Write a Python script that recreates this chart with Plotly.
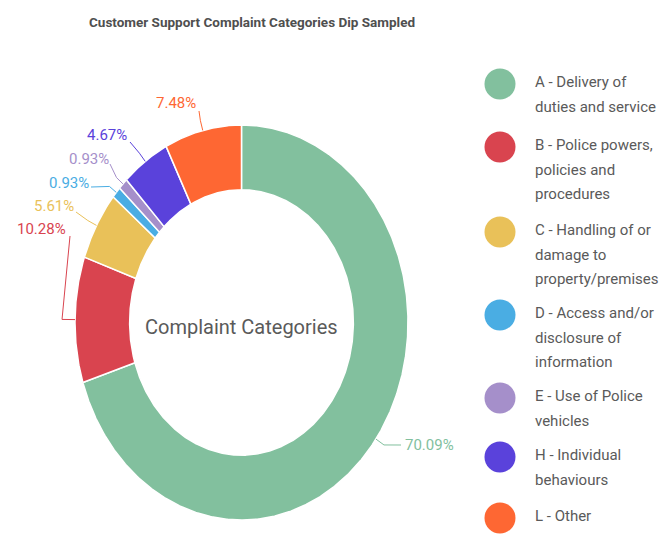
import numpy as np
import plotly.graph_objects as go

# ---- data -------------------------------------------------------------
categories = [
    "A - Delivery of duties and service",
    "B - Police powers, policies and procedures",
    "C - Handling of or damage to property/premises",
    "D - Access and/or disclosure of information",
    "E - Use of Police vehicles",
    "H - Individual behaviours",
    "L - Other",
]
legend_lines = [
    ["A - Delivery of", "duties and service"],
    ["B - Police powers,", "policies and", "procedures"],
    ["C - Handling of or", "damage to", "property/premises"],
    ["D - Access and/or", "disclosure of", "information"],
    ["E - Use of Police", "vehicles"],
    ["H - Individual", "behaviours"],
    ["L - Other"],
]
complaint_counts = [75, 11, 6, 1, 1, 5, 8]
title_text = "Customer Support Complaint Categories Dip Sampled"
center_text = "Complaint Categories"

# ---- styling / layout -------------------------------------------------
colors = ["#82c09e", "#d9444f", "#e9c159", "#4aade3", "#a58fca", "#5a42db", "#fe6733"]
W, H = 669, 549
CX, CY = 241.5, 322.5          # donut centre (px)
RX, RY = 166.5, 197.5          # outer radii (px)
HOLE = 0.672                   # inner / outer radius
FONT = "Roboto"
TEXT_GREY = "#5a5a5a"

# label anchors (px) and their text anchoring
label_pos = [(403, 445), (68, 229), (76, 206), (91, 183), (111, 159), (129, 135), (198, 103)]
label_anchor = ["left", "right", "right", "right", "right", "right", "right"]
leader_end = [(401, 445), (70, 236), (76, 212), (91, 187), (110, 164), (130, 142), (199, 111)]
leader_push = [10, 13, 10, 9, 9, 10, 10]

legend_x_marker, legend_x_text = 500, 533
legend_first_y = [84, 147, 232, 315, 398, 457, 518]
legend_line_gap = 24.5


def ellipse_pt(theta_deg, scale=1.0, extra=0.0):
    t = np.radians(theta_deg)
    return (CX + (RX * scale + extra) * np.sin(t),
            CY - (RY * scale + extra) * np.cos(t))


counts = np.array(complaint_counts, dtype=float)
total = counts.sum()
fractions = counts / total
edges = np.concatenate([[0.0], np.cumsum(fractions)]) * 360.0

fig = go.Figure()

# donut slices, clockwise from 12 o'clock
for i, cat in enumerate(categories):
    a0, a1 = edges[i], edges[i + 1]
    th = np.linspace(a0, a1, max(3, int((a1 - a0) / 0.4) + 2))
    ox, oy = ellipse_pt(th)
    ix, iy = ellipse_pt(th[::-1], HOLE)
    xs = np.concatenate([ox, ix, ox[:1]])
    ys = np.concatenate([oy, iy, oy[:1]])
    fig.add_trace(go.Scatter(
        x=xs, y=ys, mode="lines", fill="toself", fillcolor=colors[i],
        line=dict(color="white", width=1.5), name=cat,
        hoveron="fills", text=f"{cat}: {complaint_counts[i]} ({fractions[i]*100:.2f}%)",
        hoverinfo="text", showlegend=False,
    ))

# leader lines and percentage labels
for i in range(len(categories)):
    mid = (edges[i] + edges[i + 1]) / 2
    sx, sy = ellipse_pt(mid)
    px, py = ellipse_pt(mid, extra=leader_push[i])
    ex, ey = leader_end[i]
    fig.add_trace(go.Scatter(
        x=[sx, px, ex], y=[sy, py, ey], mode="lines",
        line=dict(color=colors[i], width=1), hoverinfo="skip", showlegend=False,
    ))
    lx, ly = label_pos[i]
    fig.add_annotation(
        x=lx, y=ly, xref="x", yref="y", text=f"{fractions[i]*100:.2f}%",
        showarrow=False, xanchor=label_anchor[i], yanchor="middle",
        font=dict(family=FONT, size=15, color=colors[i]),
    )

# legend: large dots with wrapped names
fig.add_trace(go.Scatter(
    x=[legend_x_marker] * len(categories), y=legend_first_y, mode="markers",
    marker=dict(size=31, color=colors), hovertext=categories, hoverinfo="text",
    showlegend=False,
))
for i, lines in enumerate(legend_lines):
    for j, line in enumerate(lines):
        fig.add_annotation(
            x=legend_x_text, y=legend_first_y[i] + j * legend_line_gap - 2,
            xref="x", yref="y", text=line, showarrow=False,
            xanchor="left", yanchor="middle",
            font=dict(family=FONT, size=15, color=TEXT_GREY),
        )

# centre caption and title
fig.add_annotation(x=CX, y=327, xref="x", yref="y", text=center_text, showarrow=False,
                   font=dict(family=FONT, size=20, color=TEXT_GREY))
fig.add_annotation(x=252, y=22, xref="x", yref="y", text=f"<b>{title_text}</b>",
                   showarrow=False, font=dict(family=FONT, size=13.5, color="#4f4f4f"))

fig.update_layout(
    width=W, height=H, margin=dict(l=0, r=0, t=0, b=0),
    paper_bgcolor="white", plot_bgcolor="white",
    xaxis=dict(range=[0, W], visible=False, fixedrange=True),
    yaxis=dict(range=[H, 0], visible=False, fixedrange=True),
    showlegend=False, dragmode=False,
)

fig.write_html("out.html")
